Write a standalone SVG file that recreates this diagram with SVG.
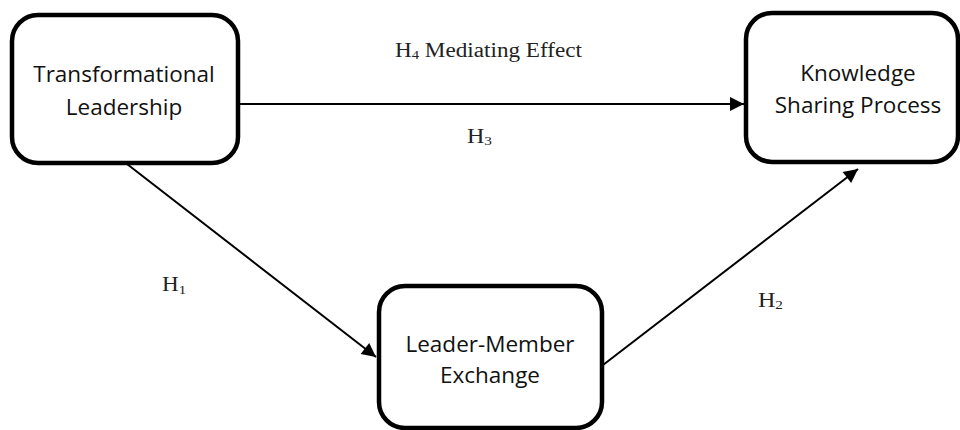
<svg xmlns="http://www.w3.org/2000/svg" width="960" height="430" viewBox="0 0 960 430">
<style>
.box{fill:#fff;stroke:#000;stroke-width:4.5}
.nt{font-family:"Open Sans","Liberation Sans",sans-serif;font-size:22.5px;fill:#111;text-anchor:middle}
.lb{font-family:"Liberation Serif","DejaVu Serif",serif;font-size:20.5px;fill:#222}
.sub{font-size:13px}
.cn{stroke:#000;stroke-width:2;fill:none;marker-end:url(#ah)}
</style>
<defs>
<marker id="ah" viewBox="0 0 10 10" refX="10" refY="5" markerUnits="userSpaceOnUse" markerWidth="16" markerHeight="14" orient="auto">
<path d="M0,0 L10,5 L0,10 z" fill="#000"/>
</marker>
</defs>
<g id="connectors">
<line class="cn" x1="238" y1="104" x2="744" y2="104"/>
<line class="cn" x1="127" y1="164" x2="376" y2="357"/>
<line class="cn" x1="603" y1="365" x2="858" y2="169"/>
</g>
<g id="tl">
<rect class="box" x="12" y="15" width="226" height="148" rx="26"/>
<text class="nt" x="124" y="82">Transformational</text>
<text class="nt" x="124" y="115">Leadership</text>
</g>
<g id="ksp">
<rect class="box" x="746" y="13" width="212" height="149" rx="26"/>
<text class="nt" x="858" y="81">Knowledge</text>
<text class="nt" x="858" y="113">Sharing Process</text>
</g>
<g id="lmx">
<rect class="box" x="379" y="286" width="223" height="142" rx="26"/>
<text class="nt" x="490" y="352">Leader-Member</text>
<text class="nt" x="490" y="383">Exchange</text>
</g>
<g id="labels">
<text class="lb" x="395" y="57" textLength="187" lengthAdjust="spacingAndGlyphs">H<tspan class="sub" dy="2">4</tspan><tspan dy="-2"> Mediating Effect</tspan></text>
<text class="lb" x="467" y="143" textLength="25" lengthAdjust="spacingAndGlyphs">H<tspan class="sub" dy="2">3</tspan></text>
<text class="lb" x="162" y="291" textLength="24" lengthAdjust="spacingAndGlyphs">H<tspan class="sub" dy="3">1</tspan></text>
<text class="lb" x="758" y="307" textLength="25" lengthAdjust="spacingAndGlyphs">H<tspan class="sub" dy="2">2</tspan></text>
</g>
</svg>
